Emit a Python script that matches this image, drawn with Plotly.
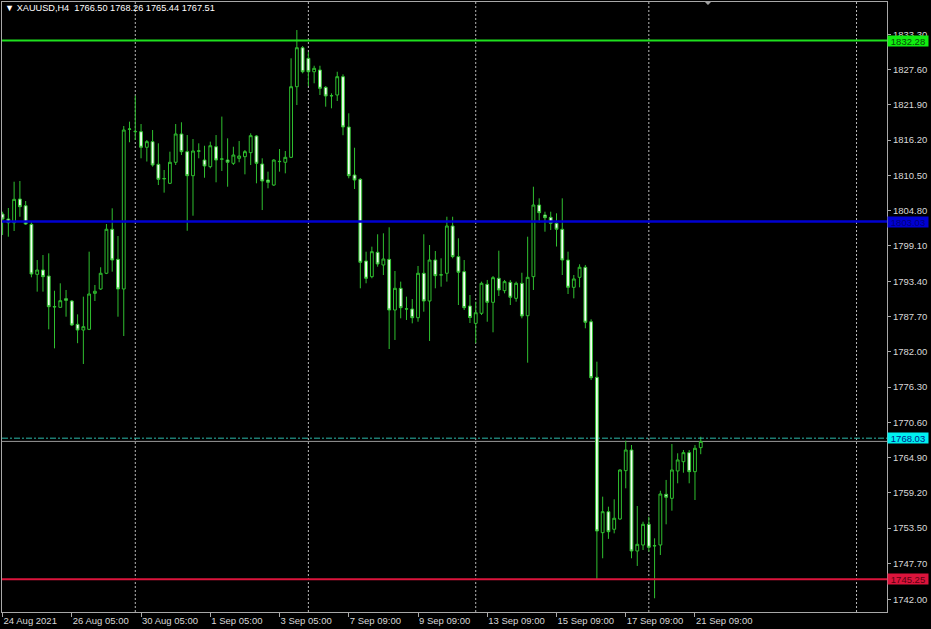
import plotly.graph_objects as go

# ---------------- data (XAUUSD, H4) ----------------
opens = [1804.26, 1803.45, 1802.85, 1806.68, 1805.60, 1802.59, 1794.51, 1795.21, 1794.24, 1789.31,
         1789.18, 1790.57, 1790.20, 1786.43, 1785.51, 1785.62, 1791.44, 1792.14, 1794.68, 1801.79,
         1796.93, 1792.14, 1817.95, 1817.55, 1817.56, 1815.04, 1815.95, 1812.29, 1809.95, 1809.22,
         1812.62, 1817.19, 1814.33, 1810.45, 1814.40, 1812.98, 1811.91, 1815.13, 1813.12, 1812.98,
         1812.45, 1813.26, 1813.52, 1814.17, 1816.86, 1812.34, 1809.75, 1808.94, 1812.72, 1812.62,
         1813.42, 1824.83, 1831.13, 1829.42, 1827.25, 1827.53, 1824.73, 1823.35, 1823.49, 1826.45,
         1818.32, 1810.56, 1809.86, 1796.66, 1794.13, 1798.07, 1796.02, 1796.93, 1788.74, 1792.25,
         1788.90, 1788.90, 1787.50, 1794.68, 1790.20, 1796.82, 1794.40, 1794.68, 1802.32, 1797.37,
         1794.94, 1789.39, 1786.59, 1788.21, 1792.90, 1789.99, 1793.87, 1791.87, 1793.22, 1790.63,
         1793.06, 1787.82, 1794.13, 1805.71, 1804.10, 1803.72, 1802.76, 1801.79, 1796.82, 1792.41,
         1794.03, 1795.65, 1786.85, 1777.87, 1752.76, 1756.15, 1753.31, 1754.97, 1762.78, 1766.12,
         1749.80, 1750.77, 1754.11, 1750.62, 1750.77, 1758.96, 1758.31, 1762.73, 1764.23, 1765.69,
         1762.62, 1766.50]
highs = [1804.63, 1805.23, 1809.48, 1809.59, 1806.36, 1803.02, 1796.82, 1797.63, 1797.90, 1791.86,
         1793.06, 1791.98, 1790.36, 1788.04, 1790.90, 1798.17, 1792.79, 1795.65, 1802.64, 1805.18,
         1800.70, 1818.48, 1819.18, 1823.37, 1818.80, 1816.22, 1817.83, 1815.68, 1811.37, 1814.33,
         1818.80, 1819.08, 1817.02, 1816.38, 1815.68, 1815.29, 1815.95, 1817.02, 1820.00, 1816.49,
         1815.13, 1816.05, 1814.60, 1817.30, 1817.02, 1813.26, 1811.10, 1813.10, 1814.76, 1814.44,
         1829.42, 1833.99, 1831.41, 1830.44, 1828.22, 1828.22, 1824.94, 1823.76, 1827.25, 1826.83,
         1820.53, 1814.97, 1810.05, 1798.17, 1798.98, 1800.98, 1801.14, 1802.11, 1795.05, 1793.33,
         1790.90, 1790.52, 1795.86, 1800.98, 1799.25, 1798.28, 1797.10, 1803.82, 1803.82, 1800.33,
         1796.82, 1791.17, 1790.09, 1793.33, 1793.60, 1794.24, 1798.33, 1793.60, 1793.60, 1793.33,
         1794.77, 1800.59, 1808.67, 1806.79, 1804.63, 1804.63, 1804.37, 1806.79, 1798.17, 1794.40,
         1796.13, 1796.02, 1787.24, 1780.39, 1758.58, 1756.96, 1758.15, 1763.00, 1767.62, 1766.93,
         1757.07, 1754.53, 1755.34, 1751.85, 1759.54, 1761.28, 1767.09, 1765.59, 1766.12, 1766.12,
         1766.93, 1768.26]
lows = [1800.86, 1800.59, 1801.51, 1803.82, 1802.50, 1794.03, 1791.71, 1791.71, 1785.62, 1782.55,
        1789.10, 1787.66, 1786.16, 1783.38, 1780.02, 1785.50, 1790.20, 1792.00, 1794.55, 1794.94,
        1787.66, 1784.54, 1815.85, 1816.22, 1813.26, 1812.74, 1811.91, 1808.94, 1807.71, 1809.10,
        1812.18, 1813.80, 1801.55, 1803.98, 1813.26, 1810.12, 1811.64, 1809.38, 1811.21, 1808.67,
        1812.18, 1812.62, 1810.67, 1812.18, 1809.22, 1804.90, 1808.41, 1808.80, 1811.10, 1810.83,
        1813.30, 1821.87, 1826.99, 1824.94, 1825.38, 1823.49, 1821.60, 1821.34, 1822.52, 1816.99,
        1810.03, 1808.30, 1792.25, 1793.06, 1793.87, 1795.74, 1794.40, 1782.44, 1783.90, 1787.40,
        1787.13, 1786.59, 1786.85, 1788.47, 1783.74, 1792.25, 1792.51, 1793.33, 1797.10, 1789.55,
        1788.74, 1786.64, 1783.38, 1787.94, 1786.85, 1785.14, 1791.01, 1791.44, 1789.55, 1790.09,
        1787.40, 1780.23, 1791.98, 1802.85, 1801.40, 1801.67, 1799.00, 1794.40, 1791.33, 1790.63,
        1792.41, 1785.79, 1777.43, 1745.20, 1748.62, 1751.76, 1752.65, 1754.85, 1759.93, 1748.62,
        1747.38, 1749.96, 1749.69, 1742.16, 1749.15, 1754.11, 1756.31, 1760.74, 1762.45, 1760.74,
        1758.04, 1765.44]
closes = [1803.45, 1802.85, 1806.63, 1805.44, 1802.64, 1794.56, 1795.21, 1794.13, 1789.28, 1789.25,
          1790.25, 1790.31, 1786.32, 1785.51, 1786.05, 1791.33, 1791.77, 1794.68, 1801.79, 1796.82,
          1792.14, 1817.83, 1817.99, 1817.60, 1815.04, 1815.95, 1812.18, 1809.86, 1809.98, 1812.62,
          1817.19, 1814.33, 1810.45, 1814.44, 1814.46, 1812.02, 1815.29, 1812.98, 1813.15, 1812.62,
          1813.79, 1813.63, 1814.33, 1816.92, 1812.45, 1809.59, 1809.38, 1812.98, 1812.76, 1813.42,
          1824.83, 1831.13, 1827.25, 1827.25, 1827.80, 1824.57, 1823.33, 1823.38, 1826.45, 1818.32,
          1810.45, 1809.75, 1796.45, 1793.87, 1798.17, 1796.18, 1796.99, 1788.74, 1792.25, 1789.12,
          1788.93, 1787.50, 1794.68, 1790.20, 1796.82, 1794.29, 1794.43, 1802.32, 1797.37, 1794.84,
          1789.12, 1787.53, 1788.31, 1793.06, 1789.99, 1793.97, 1791.98, 1793.33, 1790.80, 1793.06,
          1787.78, 1794.03, 1805.71, 1804.47, 1803.66, 1802.76, 1801.79, 1796.82, 1792.41, 1793.76,
          1795.65, 1786.76, 1777.80, 1753.03, 1756.15, 1752.92, 1755.09, 1762.89, 1766.12, 1749.80,
          1750.88, 1754.11, 1750.40, 1750.66, 1759.01, 1758.48, 1762.89, 1764.51, 1765.69, 1762.62,
          1766.40, 1767.51]

symbol = "XAUUSD,H4"
time_tick_bars = [0, 12, 24, 36, 48, 60, 72, 84, 96, 108, 120]
time_tick_labels = ["24 Aug 2021", "26 Aug 05:00", "30 Aug 05:00", "1 Sep 05:00", "3 Sep 05:00",
                    "7 Sep 09:00", "9 Sep 09:00", "13 Sep 09:00", "15 Sep 09:00", "17 Sep 09:00",
                    "21 Sep 09:00"]
grid_bars = [23, 53, 82, 112, 148]
price_ticks = [1833.30, 1827.60, 1821.90, 1816.20, 1810.50, 1804.80, 1799.10, 1793.40, 1787.70,
               1782.00, 1776.30, 1770.60, 1764.90, 1759.20, 1753.50, 1747.70, 1742.00]
level_prices = [1832.28, 1803.03, 1745.25]
bid_price = 1768.03
last_price = closes[-1]

# ---------------- styling ----------------
level_colors = ["#1ee01e", "#0000d2", "#dc143c"]
level_label_bg = ["#10ee10", "#0000d2", "#dc143c"]
level_label_fg = ["#0a4a0a", "#00007a", "#5a0010"]
level_widths = [2, 2.5, 2]
CANDLE_LINE = "#2fbf2f"
BEAR_FILL = "#f2fff2"
FRAME = "#a8a8a8"
TEXT = "#d8d8d8"
FONT = "Liberation Sans, Arial, sans-serif"

bar_index = list(range(len(opens)))

fig = go.Figure()
fig.add_trace(go.Candlestick(
    x=bar_index, open=opens, high=highs, low=lows, close=closes,
    increasing=dict(line=dict(color=CANDLE_LINE, width=1), fillcolor="#000000"),
    decreasing=dict(line=dict(color=CANDLE_LINE, width=1), fillcolor=BEAR_FILL),
    whiskerwidth=0, showlegend=False, hoverinfo="skip",
))

shapes = []
for gb in grid_bars:
    shapes.append(dict(type="line", xref="x", yref="paper", x0=gb, x1=gb, y0=0, y1=1,
                       line=dict(color="#b8b8b8", width=1, dash="2px,2px"), layer="below"))
for p, c, w in zip(level_prices, level_colors, level_widths):
    shapes.append(dict(type="line", xref="paper", yref="y", x0=0, x1=1, y0=p, y1=p,
                       line=dict(color=c, width=w), layer="above"))
shapes.append(dict(type="line", xref="paper", yref="y", x0=0, x1=1, y0=last_price, y1=last_price,
                   line=dict(color="#9a9a9a", width=1), layer="below"))
shapes.append(dict(type="line", xref="paper", yref="y", x0=0, x1=1, y0=bid_price, y1=bid_price,
                   line=dict(color="#2cb8aa", width=1, dash="6px,2px,2px,2px"), layer="above"))
# chart-shift marker at top
shapes.append(dict(type="path", xref="paper", yref="paper",
                   path="M 0.7932,1.0016 L 0.8023,1.0016 L 0.7977,0.9951 Z",
                   fillcolor="#a0a0a0", line=dict(width=0)))

annotations = [dict(
    xref="paper", yref="paper", x=0.001, y=0.9905, xanchor="left", yanchor="middle",
    text="▼ " + symbol + "&nbsp; " + " ".join(f"{v:.2f}" for v in (opens[-1], highs[-1], lows[-1], closes[-1])),
    showarrow=False, font=dict(family=FONT, size=9.2, color="#ffffff"))]
for p, bg, fg in zip(level_prices + [bid_price], level_label_bg + ["#00f0f0"], level_label_fg + ["#00208a"]):
    annotations.append(dict(xref="paper", yref="y", x=1.0, y=p, xanchor="left", yanchor="middle",
                            text=f"{p:.2f}", showarrow=False, bgcolor=bg, width=40, height=10,
                            borderpad=0, font=dict(family=FONT, size=9.5, color=fg)))

fig.update_layout(
    width=931, height=629,
    margin=dict(l=2, r=44, t=2, b=17, autoexpand=False),
    paper_bgcolor="#000000", plot_bgcolor="#000000",
    font=dict(family=FONT, size=9, color=TEXT),
    showlegend=False, hovermode=False,
    shapes=shapes, annotations=annotations,
    xaxis=dict(range=[-0.1, 153.28], rangeslider=dict(visible=False), showgrid=False, zeroline=False,
               showline=True, linecolor=FRAME, linewidth=1, mirror=True,
               tickmode="array", tickvals=time_tick_bars, ticktext=time_tick_labels,
               ticks="outside", ticklen=4, tickcolor=FRAME, ticklabelposition="outside right",
               tickfont=dict(family=FONT, size=9.5, color=TEXT)),
    yaxis=dict(side="right", range=[1739.94, 1838.52], showgrid=False, zeroline=False,
               showline=True, linecolor=FRAME, linewidth=1, mirror=True,
               tickmode="array", tickvals=price_ticks, ticktext=[f"{v:.2f}" for v in price_ticks],
               ticks="outside", ticklen=3, tickcolor=FRAME,
               tickfont=dict(family=FONT, size=9.5, color=TEXT)),
)

fig.write_html("out.html", config={"displayModeBar": False},
               post_script="document.body.style.margin='0px';document.body.style.background='#000000';")
